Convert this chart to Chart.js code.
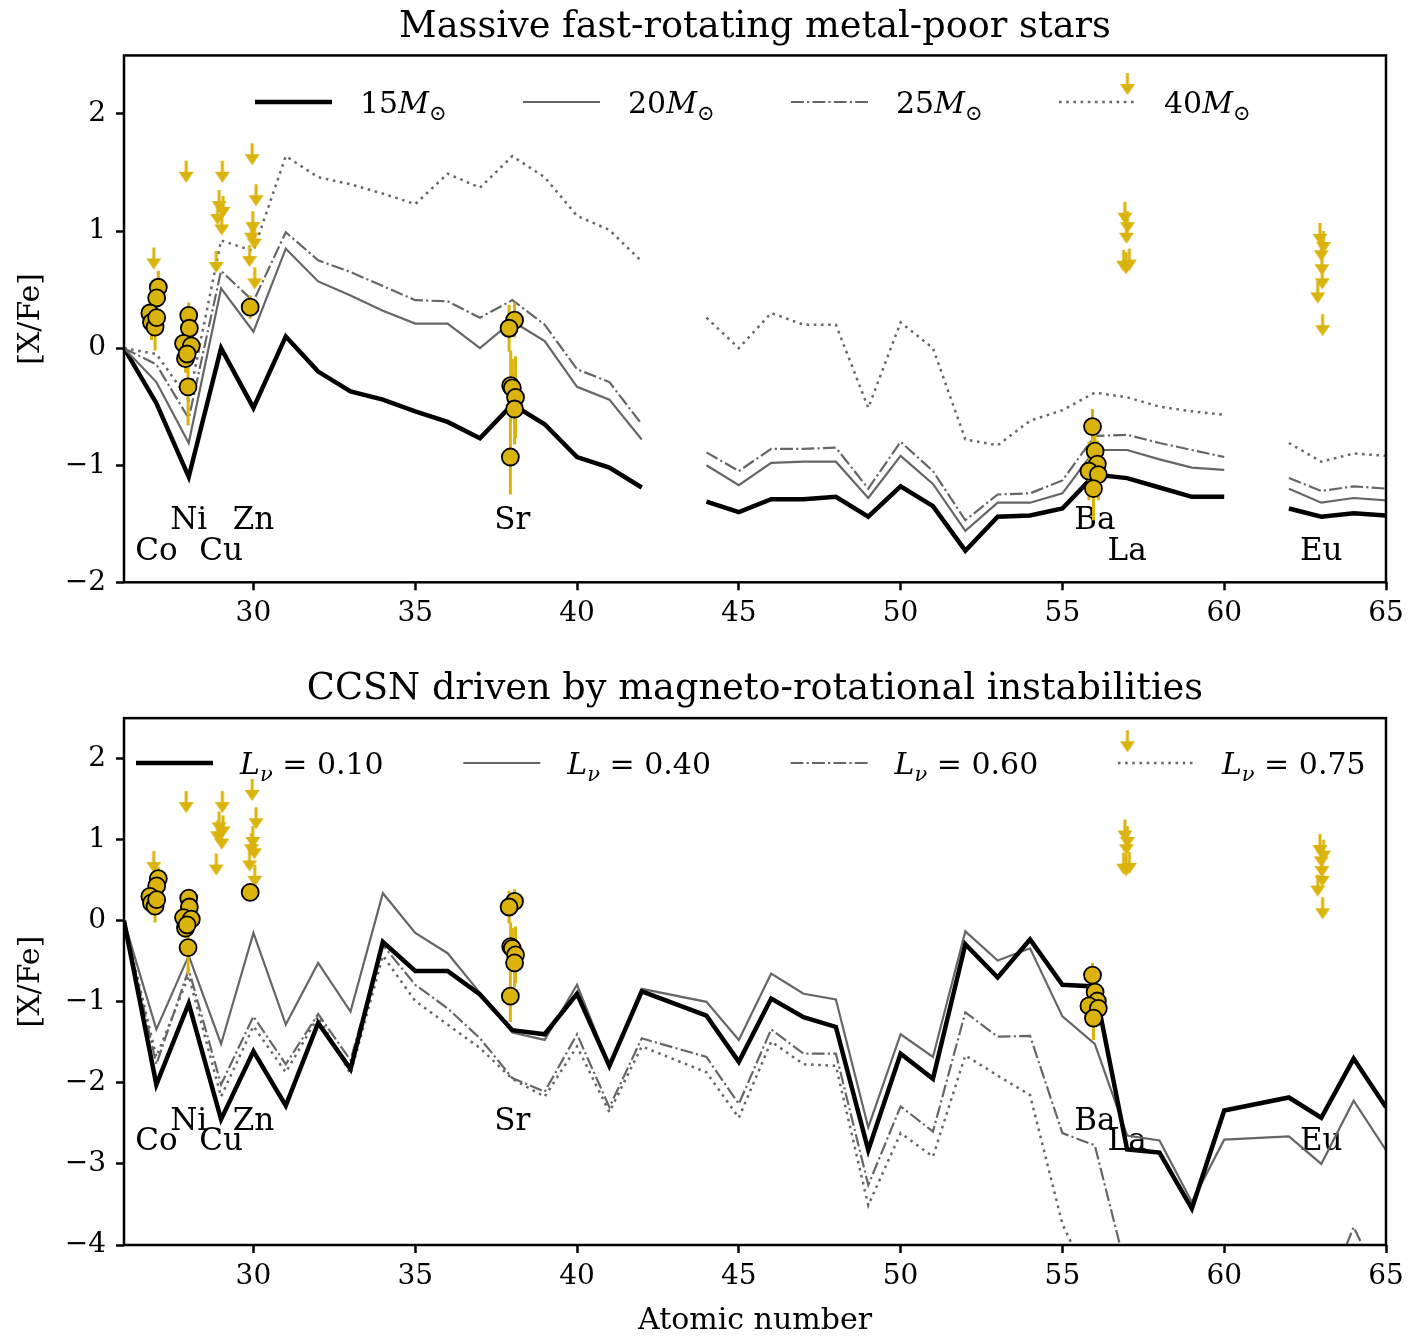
<!DOCTYPE html>
<html>
<head>
<meta charset="utf-8">
<script src="https://cdn.jsdelivr.net/npm/chart.js@4.4.1/dist/chart.umd.min.js"></script>
<style>
  body { margin: 0; background: #fff; }
  canvas { display: block; }
</style>
</head>
<body>
<canvas id="topChart" width="1421" height="660"></canvas>
<canvas id="bottomChart" width="1421" height="676"></canvas>
<script>
// atomic numbers (43 = Tc and 61 = Pm have no model value)
const Z = [26,27,28,29,30,31,32,33,34,35,36,37,38,39,40,41,42,43,44,45,
           46,47,48,49,50,51,52,53,54,55,56,57,58,59,60,61,62,63,64,65];

// massive fast-rotating metal-poor stars
const m15 = [0.00,-0.47,-1.10,0.00,-0.51,0.10,-0.20,-0.37,-0.44,-0.54,-0.63,-0.77,-0.48,-0.65,-0.93,-1.02,-1.19,null,
             -1.31,-1.40,-1.29,-1.29,-1.27,-1.44,-1.18,-1.35,-1.73,-1.44,-1.43,-1.37,-1.08,-1.11,-1.19,-1.27,-1.27,null,
             -1.37,-1.44,-1.41,-1.43];
const m20 = [0.00,-0.29,-0.81,0.51,0.14,0.85,0.57,0.45,0.32,0.21,0.21,0.00,0.23,0.06,-0.33,-0.44,-0.78,null,
             -1.00,-1.17,-0.98,-0.97,-0.97,-1.28,-0.92,-1.16,-1.56,-1.32,-1.32,-1.24,-0.87,-0.87,-0.95,-1.02,-1.04,null,
             -1.20,-1.32,-1.28,-1.30];
const m25 = [0.00,-0.14,-0.60,0.66,0.40,0.99,0.75,0.65,0.53,0.41,0.40,0.26,0.41,0.20,-0.18,-0.29,-0.65,null,
             -0.89,-1.05,-0.86,-0.86,-0.85,-1.20,-0.80,-1.05,-1.47,-1.25,-1.24,-1.13,-0.75,-0.74,-0.81,-0.87,-0.93,null,
             -1.11,-1.22,-1.18,-1.20];
const m40 = [0.00,-0.05,-0.44,0.92,0.83,1.64,1.46,1.40,1.32,1.23,1.49,1.37,1.64,1.46,1.13,1.01,0.74,null,
             0.26,0.00,0.30,0.20,0.20,-0.51,0.22,0.00,-0.78,-0.83,-0.62,-0.53,-0.38,-0.42,-0.50,-0.54,-0.57,null,
             -0.81,-0.97,-0.90,-0.92];

// CCSN driven by magneto-rotational instabilities
const l010 = [0.00,-2.02,-1.02,-2.45,-1.61,-2.28,-1.26,-1.83,-0.26,-0.62,-0.62,-0.91,-1.35,-1.40,-0.90,-1.79,-0.87,null,
              -1.17,-1.74,-0.96,-1.19,-1.31,-2.83,-1.64,-1.95,-0.29,-0.70,-0.23,-0.79,-0.81,-2.82,-2.86,-3.55,-2.34,null,
              -2.18,-2.43,-1.70,-2.30];
const l040 = [0.00,-1.34,-0.43,-1.52,-0.15,-1.28,-0.52,-1.12,0.34,-0.15,-0.40,-0.89,-1.38,-1.47,-0.79,-1.79,-0.84,null,
              -1.00,-1.47,-0.65,-0.90,-0.97,-2.55,-1.40,-1.68,-0.13,-0.49,-0.34,-1.18,-1.52,-2.65,-2.71,-3.47,-2.70,null,
              -2.66,-3.00,-2.22,-2.83];
const l060 = [0.00,-1.77,-0.60,-2.02,-1.18,-1.77,-1.15,-1.72,-0.30,-0.79,-1.08,-1.45,-1.94,-2.11,-1.40,-2.30,-1.45,null,
              -1.68,-2.26,-1.34,-1.64,-1.64,-3.26,-2.29,-2.60,-1.13,-1.43,-1.42,-2.62,-2.77,-4.35,-4.50,-5.00,-4.60,null,
              -4.60,-4.75,-3.78,-4.60];
const l075 = [0.00,-1.68,-0.68,-2.17,-1.30,-1.87,-1.18,-1.89,-0.43,-0.99,-1.28,-1.57,-1.95,-2.17,-1.55,-2.36,-1.55,null,
              -1.87,-2.43,-1.49,-1.77,-1.79,-3.51,-2.62,-2.91,-1.66,-1.91,-2.15,-3.74,-4.60,-5.00,-5.00,-5.00,-5.00,null,
              -5.00,-5.00,-4.20,-5.00];

// observed stars: measurements with errors
const obsX = [27.06,27.01,26.80,26.85,26.96,27.01, 28.00,28.02,27.84,27.90,28.08,27.95,27.98, 29.90,
              38.07,37.90,37.95,38.00,38.10,38.07,37.94, 55.93,56.01,56.08,55.82,56.11,55.96];
const obsY = [0.52,0.43,0.30,0.22,0.18,0.26, 0.28,0.17,0.04,-0.09,0.02,-0.05,-0.33, 0.35,
              0.24,0.17,-0.32,-0.34,-0.42,-0.52,-0.93, -0.67,-0.88,-0.99,-1.05,-1.08,-1.20];
const obsErr = [0.14,0.12,0.12,0.15,0.20,0.15, 0.11,0.10,0.12,0.12,0.10,0.12,0.33, 0.10,
                0.15,0.20,0.30,0.25,0.35,0.30,0.32, 0.15,0.20,0.20,0.25,0.22,0.27];
// upper limits
const limX = [26.92, 27.92, 29.04,28.94,29.06,28.89,29.02,28.85,
              29.96,30.08,29.98,29.94,30.03,29.88,30.04,
              57.01,56.93,57.01,56.98,56.89,57.07,56.97,
              62.96,63.07,63.00,63.02,63.03,62.89,63.04];
const limY = [0.86, 1.60, 1.60,1.35,1.30,1.24,1.15,0.83,
              1.75,1.40,1.17,1.08,1.03,0.88,0.69,
              2.35,1.25,1.17,1.08,0.84,0.85,0.82,
              1.07,1.00,0.93,0.81,0.69,0.57,0.29];

// element labels
const elemNames = ['Co','Ni','Cu','Zn','Sr','Ba','La','Eu'];
const elemZ     = [27, 28, 29, 30, 38, 56, 57, 63];
const elemRow   = [1, 0, 1, 0, 0, 0, 1, 1];
const topLabelY = [-1.48, -1.74];
const botLabelY = [-2.48, -2.73];

const xTicks = [30,35,40,45,50,55,60,65];
const yTicksTop = [-2,-1,0,1,2];
const yTicksBot = [-4,-3,-2,-1,0,1,2];

const massLabels = ['15','20','25','40'];
const lnuLabels = ['0.10','0.40','0.60','0.75'];

const yellow = '#dab30c';
const gray = '#666666';
const styles = [
  {color: '#000', width: 4.5, dash: []},
  {color: gray, width: 2.2, dash: []},
  {color: gray, width: 2.2, dash: [12.8, 3.2, 2.2, 3.2]},
  {color: gray, width: 2.5, dash: [2.6, 4.6]}
];

Chart.defaults.font.family = "'DejaVu Serif', serif";
Chart.defaults.color = '#000';

function makeArrow() {
  const c = document.createElement('canvas');
  c.width = 16; c.height = 46;
  const g = c.getContext('2d');
  g.strokeStyle = yellow; g.fillStyle = yellow; g.lineWidth = 3;
  g.beginPath(); g.moveTo(8, 23); g.lineTo(8, 35); g.stroke();
  g.beginPath(); g.moveTo(0.5, 34); g.lineTo(15.5, 34); g.lineTo(8, 45); g.closePath(); g.fill();
  return c;
}
const arrowImg = makeArrow();

function modelSet(label, vals, st, order, span) {
  return {
    type: 'line', label,
    data: Z.map((z, i) => ({x: z, y: vals[i]})),
    borderColor: st.color, borderWidth: st.width, borderDash: st.dash,
    borderCapStyle: 'butt', borderJoinStyle: 'miter',
    pointRadius: 0, fill: false, tension: 0, spanGaps: span, order
  };
}

function obsSets() {
  const bars = [];
  obsX.forEach((x, i) => {
    bars.push({x, y: obsY[i] - obsErr[i]}, {x, y: obsY[i] + obsErr[i]}, {x, y: null});
  });
  return [
    {type: 'scatter', label: 'obs', data: obsX.map((x, i) => ({x, y: obsY[i]})),
     pointRadius: 8.5, pointBackgroundColor: yellow, pointBorderColor: '#000', pointBorderWidth: 1.8, order: 0},
    {type: 'line', label: 'err', data: bars, borderColor: yellow, borderWidth: 3,
     pointRadius: 0, spanGaps: false, borderCapStyle: 'butt', order: 1},
    {type: 'scatter', label: 'lim', data: limX.map((x, i) => ({x, y: limY[i]})),
     pointStyle: arrowImg, pointRadius: 3, order: 2}
  ];
}

function drawMath(ctx, x, y, parts) {
  let cx = x;
  parts.forEach(p => {
    const size = p.sub ? 21 : 30;
    ctx.font = (p.it ? 'italic ' : '') + size + "px 'DejaVu Serif', serif";
    ctx.fillText(p.t, cx, y + (p.sub ? 18 : 11));
    cx += ctx.measureText(p.t).width;
  });
}

const mathLegend = {
  id: 'mathLegend',
  afterDatasetsDraw(chart, args, opts) {
    const ctx = chart.ctx;
    ctx.save();
    ctx.fillStyle = '#000';
    ctx.textAlign = 'left';
    ctx.textBaseline = 'alphabetic';
    opts.items.forEach((parts, i) => {
      const st = styles[i];
      const x0 = opts.x0 + i * opts.pitch;
      ctx.strokeStyle = st.color; ctx.lineWidth = st.width; ctx.setLineDash(st.dash);
      ctx.lineCap = 'butt';
      ctx.beginPath(); ctx.moveTo(x0, opts.y); ctx.lineTo(x0 + opts.len, opts.y); ctx.stroke();
      ctx.setLineDash([]);
      drawMath(ctx, x0 + opts.gap, opts.y, parts);
    });
    ctx.restore();
  }
};

const elemLabels = {
  id: 'elemLabels',
  beforeDatasetsDraw(chart, args, opts) {
    const {ctx, scales: {x, y}} = chart;
    ctx.save();
    ctx.font = "31px 'DejaVu Serif', serif";
    ctx.fillStyle = '#000';
    ctx.textAlign = 'center';
    ctx.textBaseline = 'middle';
    elemNames.forEach((n, i) => {
      ctx.fillText(n, x.getPixelForValue(elemZ[i]), y.getPixelForValue(opts.rowY[elemRow[i]]));
    });
    ctx.restore();
  }
};

const frame = {
  id: 'frame',
  afterDatasetsDraw(chart) {
    const {ctx, chartArea: a} = chart;
    ctx.save();
    ctx.strokeStyle = '#000';
    ctx.lineWidth = 2.5;
    ctx.strokeRect(a.left, a.top, a.right - a.left, a.bottom - a.top);
    ctx.restore();
  }
};

const minus = v => (v < 0 ? '\u2212' + Math.abs(v) : String(v));

function scales(yMin, yMax, yTicks, xHeight, xTitle) {
  const grid = {display: true, drawOnChartArea: false, drawTicks: true, tickLength: 8,
                tickWidth: 2.5, tickColor: '#000'};
  return {
    x: {
      type: 'linear', min: 26, max: 65,
      afterBuildTicks: s => { s.ticks = xTicks.map(v => ({value: v})); },
      afterFit: s => { s.height = xHeight; },
      ticks: {font: {size: 28}, padding: 7, maxRotation: 0, autoSkip: false, callback: minus},
      grid, border: {display: false},
      title: {display: !!xTitle, text: xTitle || '', font: {size: 30}, padding: {top: 0, bottom: -3}}
    },
    y: {
      type: 'linear', min: yMin, max: yMax,
      afterBuildTicks: s => { s.ticks = yTicks.map(v => ({value: v})); },
      afterFit: s => { s.width = 124; },
      ticks: {font: {size: 28}, padding: 10, callback: minus},
      grid, border: {display: false},
      title: {display: true, text: '[X/Fe]', font: {size: 30}, padding: {top: 13, bottom: 0}}
    }
  };
}

new Chart(document.getElementById('topChart'), {
  type: 'line',
  data: {
    datasets: [
      ...obsSets(),
      modelSet('15', m15, styles[0], 6, false),
      modelSet('20', m20, styles[1], 5, false),
      modelSet('25', m25, styles[2], 4, false),
      modelSet('40', m40, styles[3], 3, false)
    ]
  },
  options: {
    responsive: false, animation: false, events: [],
    layout: {padding: {left: 0, right: 35, top: 0, bottom: 0}},
    scales: scales(-2, 2.5, yTicksTop, 77.7, null),
    plugins: {
      legend: {display: false},
      tooltip: {enabled: false},
      title: {display: true, fullSize: false, text: 'Massive fast-rotating metal-poor stars',
              font: {size: 36.7, weight: 'normal'}, padding: {top: 5, bottom: 6.4}},
      mathLegend: {x0: 255, pitch: 268, len: 77, gap: 105, y: 102,
                   items: massLabels.map(m => [{t: m}, {t: 'M', it: true}, {t: '\u2299', sub: true}])},
      elemLabels: {rowY: topLabelY}
    }
  },
  plugins: [elemLabels, frame, mathLegend]
});

new Chart(document.getElementById('bottomChart'), {
  type: 'line',
  data: {
    datasets: [
      ...obsSets(),
      modelSet('0.10', l010, styles[0], 3, true),
      modelSet('0.40', l040, styles[1], 4, true),
      modelSet('0.60', l060, styles[2], 5, true),
      modelSet('0.75', l075, styles[3], 6, true)
    ]
  },
  options: {
    responsive: false, animation: false, events: [],
    layout: {padding: {left: 0, right: 35, top: 0, bottom: 0}},
    scales: scales(-4, 2.5, yTicksBot, 91, 'Atomic number'),
    plugins: {
      legend: {display: false},
      tooltip: {enabled: false},
      title: {display: true, fullSize: false, text: 'CCSN driven by magneto-rotational instabilities',
              font: {size: 36.7, weight: 'normal'}, padding: {top: 7.8, bottom: 6.3}},
      mathLegend: {x0: 136, pitch: 327.3, len: 77, gap: 104, y: 103,
                   items: lnuLabels.map(v => [{t: 'L', it: true}, {t: '\u03bd', it: true, sub: true}, {t: ' = ' + v}])},
      elemLabels: {rowY: botLabelY}
    }
  },
  plugins: [elemLabels, frame, mathLegend]
});
</script>
</body>
</html>
